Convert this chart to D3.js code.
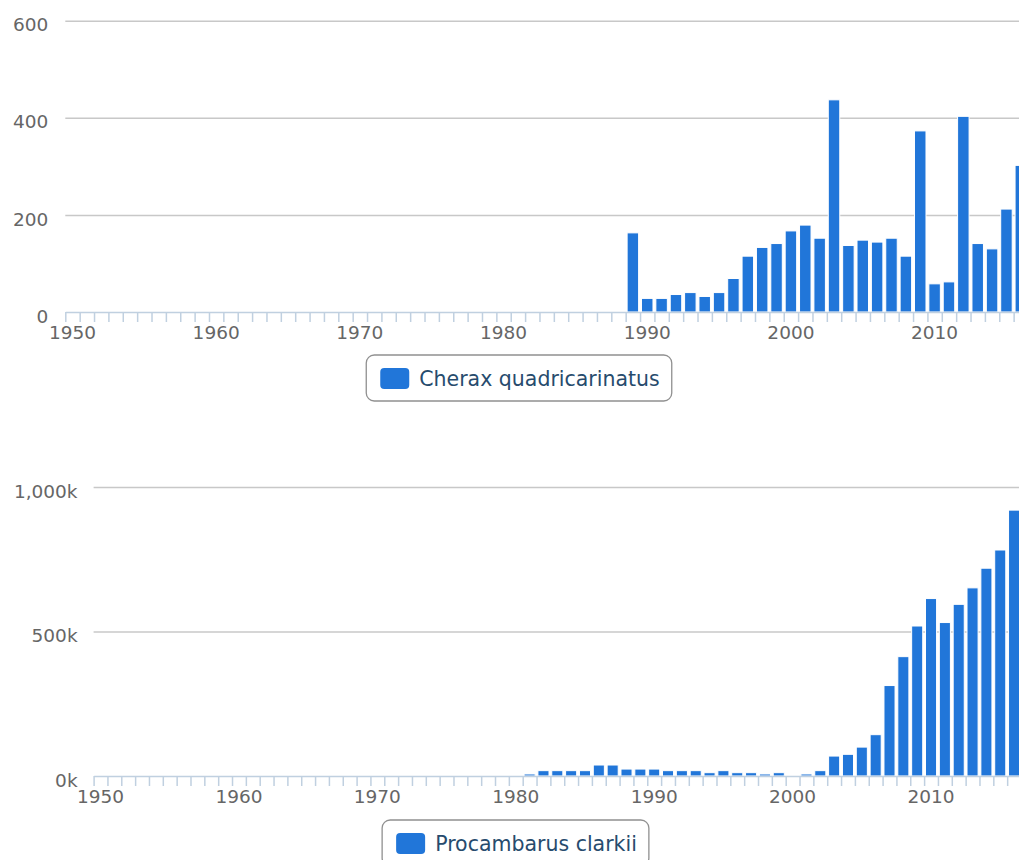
<!DOCTYPE html>
<html lang="en">
<head>
    <meta charset="UTF-8">
    <title>Crayfish production</title>

    <style>
        html, body
        {
            margin: 0;
            padding: 0;
            background: #ffffff;
            overflow: hidden;
        }

        svg
        {
            display: block;
        }

        .y-axis text, .x-labels text
        {
            font-family: "Lucida Grande", "DejaVu Sans", sans-serif;
            font-size: 18.5px;
            fill: #666666;
        }

        .legend text
        {
            font-family: "Lucida Grande", "DejaVu Sans", sans-serif;
            font-size: 20.5px;
            fill: #274b6d;
        }
    </style>
</head>
<body>

    <svg width="1019" height="860"></svg>

    <script src="https://d3js.org/d3.v7.min.js"></script>

    <script>

        // Categories: one per year
        const years = [
            1950, 1951, 1952, 1953, 1954, 1955, 1956, 1957, 1958, 1959,
            1960, 1961, 1962, 1963, 1964, 1965, 1966, 1967, 1968, 1969,
            1970, 1971, 1972, 1973, 1974, 1975, 1976, 1977, 1978, 1979,
            1980, 1981, 1982, 1983, 1984, 1985, 1986, 1987, 1988, 1989,
            1990, 1991, 1992, 1993, 1994, 1995, 1996, 1997, 1998, 1999,
            2000, 2001, 2002, 2003, 2004, 2005, 2006, 2007, 2008, 2009,
            2010, 2011, 2012, 2013, 2014, 2015, 2016
        ];

        // Cherax quadricarinatus, tonnes
        const cheraxValues = [
            0, 0, 0, 0, 0, 0, 0, 0, 0, 0,
            0, 0, 0, 0, 0, 0, 0, 0, 0, 0,
            0, 0, 0, 0, 0, 0, 0, 0, 0, 0,
            0, 0, 0, 0, 0, 0, 0, 0, 0, 163,
            28, 28, 36, 40, 32, 40, 69, 115, 133, 141,
            167, 179, 152, 437, 137, 148, 144, 152, 115, 373,
            58, 62, 403, 141, 130, 212, 302
        ];

        // Procambarus clarkii, tonnes
        const procambarusValues = [
            0, 0, 0, 0, 0, 0, 0, 0, 0, 0,
            0, 0, 0, 0, 0, 0, 0, 0, 0, 0,
            0, 0, 0, 0, 0, 0, 0, 0, 0, 0,
            0, 7000, 18500, 18500, 18500, 18500, 38000, 38000, 24000, 24000,
            24000, 18500, 18500, 18500, 11500, 18500, 11500, 11500, 7000, 11500,
            0, 7000, 18500, 69000, 75000, 100000, 143000, 313000, 413000, 519000,
            614000, 531000, 594000, 651000, 719000, 782000, 920000
        ];

        const cheraxTicks = [0, 200, 400, 600];
        const procambarusTicks = [0, 500000, 1000000];
        const decadeLabels = [1950, 1960, 1970, 1980, 1990, 2000, 2010];

        const barColor = '#2176d9';

        const charts = [
            {
                name: 'Cherax quadricarinatus',
                values: cheraxValues,
                ticks: cheraxTicks,
                format: d3.format(','),
                left: 65.3, right: 1028, top: 20.7, bottom: 312,
                labelPadding: 17,
                legendTop: 355,
                width: 1038
            },
            {
                name: 'Procambarus clarkii',
                values: procambarusValues,
                ticks: procambarusTicks,
                format: function (d) { return d3.format(',')(d / 1000) + 'k'; },
                left: 93.6, right: 1021, top: 487, bottom: 776,
                labelPadding: 16,
                legendTop: 820,
                width: 1031
            }
        ];

        const svg = d3.select('svg');

        charts.forEach(function (c) {

            const group = svg.append('g');

            const x = d3.scaleBand()
                .domain(years)
                .range([c.left, c.right])
                .paddingInner(0.2)
                .paddingOuter(0.1);

            // Tick marks sit between the categories
            const xEdges = d3.scaleLinear()
                .domain([years[0], years[years.length - 1] + 1])
                .range([c.left, c.right]);

            const y = d3.scaleLinear()
                .domain([0, d3.max(c.ticks)])
                .range([c.bottom, c.top]);

            // Grid lines and y labels
            const yAxis = group.append('g')
                .attr('class', 'y-axis')
                .attr('transform', 'translate(' + c.left + ' 0)')
                .call(
                    d3.axisLeft(y)
                    .tickValues(c.ticks)
                    .tickFormat(c.format)
                    .tickSize(-(c.right - c.left))
                    .tickPadding(c.labelPadding)
                );

            yAxis.select('.domain').remove();
            yAxis.selectAll('line')
                .attr('stroke', '#c8c8c8')
                .attr('stroke-width', 1.5);
            yAxis.selectAll('.tick')
                .filter(function (d) { return d === 0; })
                .select('line')
                .remove();
            yAxis.selectAll('text').attr('dy', '0.55em');

            // Columns
            const points = years
                .map(function (yr, i) { return { year: yr, value: c.values[i] }; })
                .filter(function (d) { return d.value > 0; });

            group.append('g')
                .selectAll('rect')
                .data(points)
                .join('rect')
                .attr('x', function (d) { return x(d.year); })
                .attr('width', x.bandwidth())
                .attr('y', function (d) { return y(d.value); })
                .attr('height', function (d) { return y(0) - y(d.value); })
                .attr('fill', barColor)
                .attr('stroke', '#ffffff')
                .attr('stroke-width', 1);

            // X axis line and ticks
            const xAxis = group.append('g')
                .attr('transform', 'translate(0 ' + c.bottom + ')')
                .call(
                    d3.axisBottom(xEdges)
                    .tickValues(years.concat([years[years.length - 1] + 1]))
                    .tickFormat('')
                    .tickSizeInner(10)
                    .tickSizeOuter(0)
                );

            xAxis.selectAll('line, path')
                .attr('stroke', '#c0d0e0')
                .attr('stroke-width', 1.5);

            // Decade labels centred on their category
            const xLabels = group.append('g')
                .attr('class', 'x-labels')
                .attr('transform', 'translate(0 ' + c.bottom + ')')
                .call(
                    d3.axisBottom(x)
                    .tickValues(decadeLabels)
                    .tickSize(0)
                    .tickPadding(13.5)
                );

            xLabels.select('.domain').remove();

            // Legend
            const legend = group.append('g').attr('class', 'legend');

            const box = legend.append('rect');
            const symbol = legend.append('rect');
            const label = legend.append('text').text(c.name);

            const textWidth = label.node().getComputedTextLength();
            const boxWidth = 14 + 29 + 10 + textWidth + 12;
            const boxLeft = c.width / 2 - boxWidth / 2;

            box
                .attr('x', boxLeft)
                .attr('y', c.legendTop)
                .attr('width', boxWidth)
                .attr('height', 46)
                .attr('rx', 8)
                .attr('fill', '#ffffff')
                .attr('stroke', '#909090')
                .attr('stroke-width', 1.3);

            symbol
                .attr('x', boxLeft + 14)
                .attr('y', c.legendTop + 13)
                .attr('width', 29)
                .attr('height', 21)
                .attr('rx', 4)
                .attr('fill', barColor);

            label
                .attr('x', boxLeft + 53)
                .attr('y', c.legendTop + 24)
                .attr('dominant-baseline', 'central');
        });

    </script>

</body>
</html>
